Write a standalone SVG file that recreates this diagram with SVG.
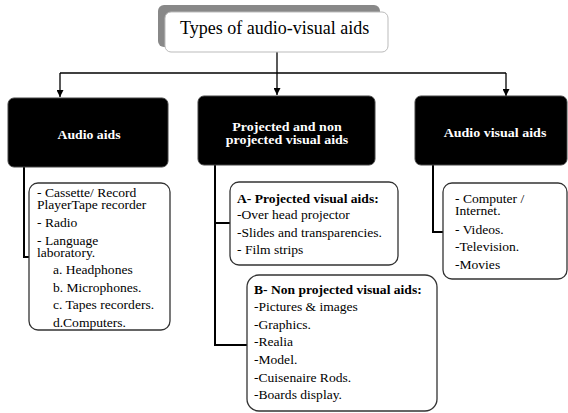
<svg xmlns="http://www.w3.org/2000/svg" width="568" height="413" viewBox="0 0 568 413">
<defs>
<marker id="arr" viewBox="0 0 10 10" refX="10" refY="5" markerWidth="7" markerHeight="7" markerUnits="userSpaceOnUse" orient="auto">
<path d="M0,0 L10,5 L0,10 z" fill="#000"/>
</marker>
</defs>
<style>
.t{font-family:"Liberation Serif","Times New Roman",serif;fill:#000;font-size:11.5px}
.b{font-weight:bold}
.w{fill:#fff;font-weight:bold;font-size:12.5px;text-anchor:middle}
.blk{fill:#000;stroke:#444;stroke-width:1}
.lst{fill:#fff;stroke:#333;stroke-width:1.3}
.c{fill:none;stroke:#000;stroke-width:1.3}
.c2{fill:none;stroke:#000;stroke-width:2}
</style>
<rect width="568" height="413" fill="#fff"/>
<g id="connectors">
<line class="c" x1="277" y1="52" x2="277" y2="73"/>
<line class="c" x1="60" y1="73" x2="506" y2="73"/>
<line class="c" x1="60" y1="73" x2="60" y2="97" marker-end="url(#arr)"/>
<line class="c" x1="277" y1="73" x2="277" y2="95" marker-end="url(#arr)"/>
<line class="c" x1="506" y1="73" x2="506" y2="96" marker-end="url(#arr)"/>
<polyline class="c2" points="24,167 24,257 30,257"/>
<polyline class="c2" points="215,165 215,345 247,345"/>
<line class="c2" x1="215" y1="223" x2="231" y2="223"/>
<polyline class="c2" points="433,165 433,232 443,232"/>
</g>
<g id="title">
<rect x="158" y="5" width="222" height="42" rx="6" fill="#888"/>
<rect x="165" y="12" width="223" height="40" rx="6" fill="#fff" stroke="#bbb" stroke-width="1"/>
<text class="t" x="180" y="34" style="font-size:18px">Types of audio-visual aids</text>
</g>
<g id="audio-aids">
<rect class="blk" x="8" y="98" width="160" height="69" rx="6"/>
<text class="t w" x="89" y="139" transform="translate(89,0) scale(1.1,1) translate(-89,0)">Audio aids</text>
</g>
<g id="projected">
<rect class="blk" x="198" y="96" width="177" height="69" rx="6"/>
<g transform="translate(287,0) scale(1.12,1) translate(-287,0)">
<text class="t w" x="287" y="131">Projected and non</text>
<text class="t w" x="287" y="144">projected visual aids</text>
</g>
</g>
<g id="audio-visual">
<rect class="blk" x="415" y="96" width="152" height="69" rx="6"/>
<text class="t w" x="495" y="137" transform="translate(495,0) scale(1.12,1) translate(-495,0)">Audio visual aids</text>
</g>
<g id="audio-list">
<rect class="lst" x="29" y="183" width="141" height="147" rx="9"/>
<g transform="translate(37,0) scale(1.18,1) translate(-37,0)">
<text class="t" x="37" y="197">- Cassette/ Record</text>
<text class="t" x="37" y="209">PlayerTape recorder</text>
<text class="t" x="37" y="227">- Radio</text>
<text class="t" x="37" y="245">- Language</text>
<text class="t" x="37" y="257">laboratory.</text>
<text class="t" x="50.5" y="274">a. Headphones</text>
<text class="t" x="50.5" y="292">b. Microphones.</text>
<text class="t" x="50.5" y="309">c. Tapes recorders.</text>
<text class="t" x="50.5" y="327">d.Computers.</text>
</g>
</g>
<g id="projected-list">
<rect class="lst" x="230" y="182" width="168" height="83" rx="9"/>
<g transform="translate(237,0) scale(1.18,1) translate(-237,0)">
<text class="t b" x="237" y="203">A- Projected visual aids:</text>
<text class="t" x="237" y="219">-Over head projector</text>
<text class="t" x="237" y="237">-Slides and transparencies.</text>
<text class="t" x="237" y="254">- Film strips</text>
</g>
</g>
<g id="non-projected-list">
<rect class="lst" x="247" y="275" width="190" height="136" rx="12"/>
<g transform="translate(254,0) scale(1.18,1) translate(-254,0)">
<text class="t b" x="254" y="294">B- Non projected visual aids:</text>
<text class="t" x="254" y="311">-Pictures &amp; images</text>
<text class="t" x="254" y="329">-Graphics.</text>
<text class="t" x="254" y="346">-Realia</text>
<text class="t" x="254" y="364">-Model.</text>
<text class="t" x="254" y="382">-Cuisenaire Rods.</text>
<text class="t" x="254" y="399">-Boards display.</text>
</g>
</g>
<g id="av-list">
<rect class="lst" x="443" y="183" width="124" height="96" rx="9"/>
<g transform="translate(455,0) scale(1.18,1) translate(-455,0)">
<text class="t" x="455" y="203">- Computer /</text>
<text class="t" x="455" y="215">Internet.</text>
<text class="t" x="455" y="234">- Videos.</text>
<text class="t" x="455" y="251">-Television.</text>
<text class="t" x="455" y="269">-Movies</text>
</g>
</g>
</svg>
